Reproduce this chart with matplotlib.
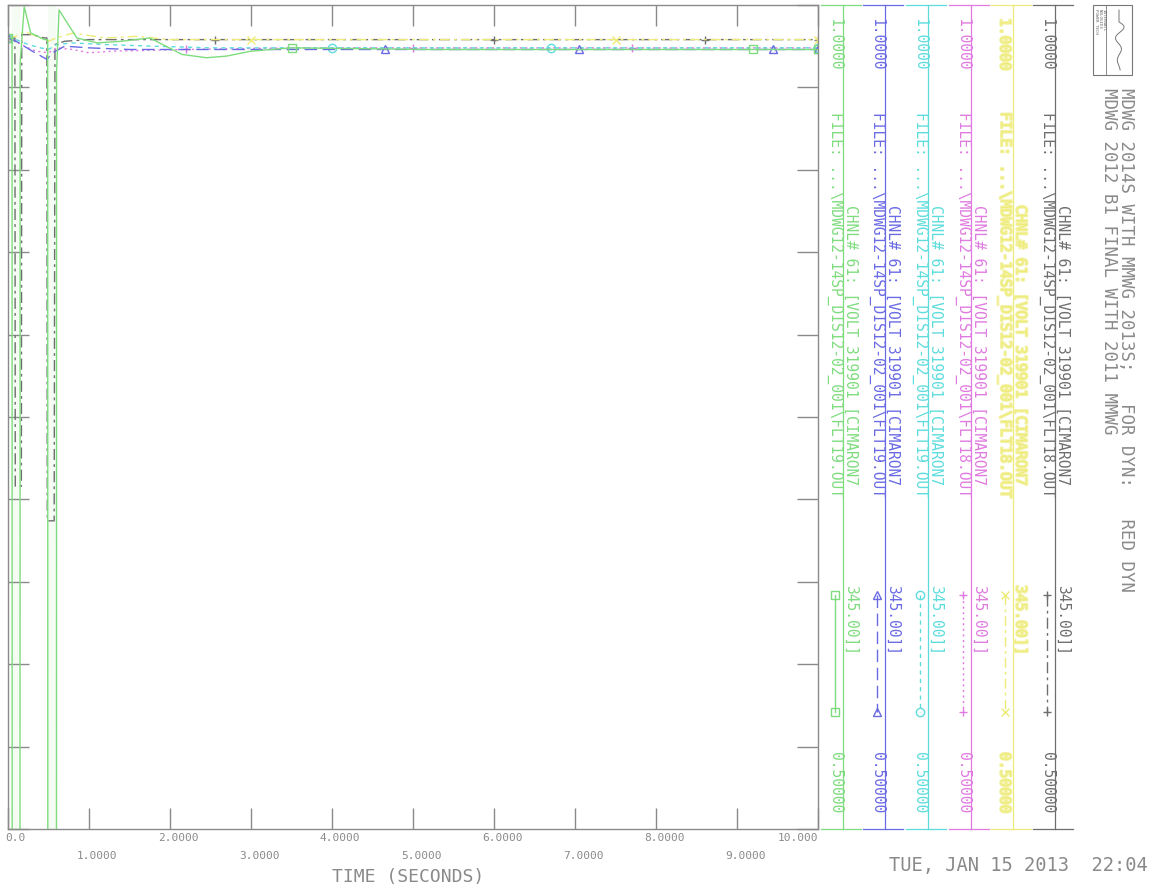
import numpy as np
import matplotlib.pyplot as plt
from matplotlib.lines import Line2D
from matplotlib.patches import Rectangle
import matplotlib.patheffects as pe

plt.rcParams['font.family'] = 'DejaVu Sans Mono'

# ---- CHNL 61 : VOLT 319901 [CIMARON7 345.00], pu vs time (s) ----
t_black = [0.0, 0.085, 0.09, 0.165, 0.17, 0.30, 0.45, 0.48, 0.485, 0.57, 0.58, 0.70, 1.0, 1.5, 2.55, 4.0, 6.0, 8.6, 10.0]
v_black = [0.980, 0.980, 0.708, 0.708, 0.982, 0.982, 0.980, 0.980, 0.687, 0.687, 0.976, 0.978, 0.979, 0.979, 0.979, 0.979, 0.979, 0.979, 0.979]
mk_black = [0.0, 2.55, 6.0, 8.6, 10.0]

t_yellow = [0.0, 0.1, 0.2, 0.35, 0.5, 0.6, 0.8, 1.2, 1.6, 2.0, 3.0, 5.0, 7.5, 10.0]
v_yellow = [0.980, 0.981, 0.984, 0.981, 0.978, 0.980, 0.983, 0.980, 0.981, 0.979, 0.979, 0.979, 0.979, 0.979]
mk_yellow = [0.0, 3.0, 7.5, 10.0]

t_magenta = [0.0, 0.1, 0.2, 0.35, 0.5, 0.6, 0.8, 1.0, 1.3, 2.2, 3.5, 5.0, 7.7, 10.0]
v_magenta = [0.980, 0.978, 0.975, 0.972, 0.971, 0.974, 0.973, 0.971, 0.972, 0.973, 0.974, 0.974, 0.974, 0.974]
mk_magenta = [0.0, 2.2, 5.0, 7.7, 10.0]

t_cyan = [0.0, 0.1, 0.25, 0.4, 0.5, 0.6, 0.8, 1.2, 1.8, 2.5, 4.0, 6.7, 9.0, 10.0]
v_cyan = [0.980, 0.979, 0.976, 0.974, 0.973, 0.976, 0.977, 0.976, 0.975, 0.974, 0.974, 0.974, 0.974, 0.974]
mk_cyan = [0.0, 4.0, 6.7, 10.0]

t_blue = [0.0, 0.1, 0.2, 0.3, 0.48, 0.55, 0.7, 1.0, 1.5, 2.2, 3.0, 4.65, 7.05, 9.45, 10.0]
v_blue = [0.980, 0.978, 0.975, 0.972, 0.967, 0.971, 0.975, 0.974, 0.973, 0.973, 0.973, 0.973, 0.973, 0.973, 0.973]
mk_blue = [0.0, 4.65, 7.05, 9.45, 10.0]

t_green = [0.0, 0.05, 0.052, 0.148, 0.15, 0.2, 0.28, 0.45, 0.49, 0.492, 0.598, 0.6, 0.63, 0.72, 0.85,
           1.1, 1.4, 1.75, 1.95, 2.15, 2.45, 2.7, 3.0, 3.5, 5.2, 7.2, 9.2, 10.0]
v_green = [0.980, 0.980, 0.30, 0.30, 0.965, 0.999, 0.983, 0.979, 0.979, 0.30, 0.30, 0.960, 0.997, 0.990, 0.980,
           0.977, 0.978, 0.980, 0.975, 0.970, 0.968, 0.969, 0.972, 0.974, 0.973, 0.973, 0.973, 0.973]
mk_green = [0.0, 3.5, 9.2, 10.0]

x_ticks = [0, 1, 2, 3, 4, 5, 6, 7, 8, 9, 10]
x_labels = ['0.0', '1.0000', '2.0000', '3.0000', '4.0000', '5.0000',
            '6.0000', '7.0000', '8.0000', '9.0000', '10.000']

chnl_text = 'CHNL# 61: [VOLT 319901 [CIMARON7'
chnl_base = '345.00]]'
file_fmt = 'FILE: ...\\MDWG12-14SP_DIS12-02_001\\{}.OUT'
title1 = 'MDWG 2012 B1 FINAL WITH 2011 MMWG'
title2 = 'MDWG 2014S WITH MMWG 2013S;   FOR DYN:   RED DYN'
stamp = 'TUE, JAN 15 2013  22:04'

YELLOW = '#eeec78'
# channel styles, right-hand legend column order (left to right)
series = [
    dict(t=t_green, v=v_green, mk=mk_green, c='#7edc7e', ls='-', m='s', f='FLT19', x=835),
    dict(t=t_blue, v=v_blue, mk=mk_blue, c='#6a6ae4', ls=(0, (9, 4)), m='^', f='FLT19', x=877),
    dict(t=t_cyan, v=v_cyan, mk=mk_cyan, c='#5edcdc', ls=(0, (3, 3)), m='o', f='FLT19', x=920),
    dict(t=t_magenta, v=v_magenta, mk=mk_magenta, c='#e07ae0', ls=(0, (1.5, 2.5)), m='+', f='FLT18', x=963),
    dict(t=t_yellow, v=v_yellow, mk=mk_yellow, c=YELLOW, ls=(0, (7, 3, 2, 3)), m='x', f='FLT18', x=1005),
    dict(t=t_black, v=v_black, mk=mk_black, c='#6e6e6e', ls=(0, (8, 3, 2, 3)), m='+', f='FLT18', x=1047),
]

W, H = 1168, 891
GRAY = '#8a8a8a'
fig = plt.figure(figsize=(W / 100, H / 100), dpi=100)


def fx(x):
    return x / W


def fy(y):
    return 1 - y / H


# plot frame, pixel edges
L, R, T, B = 8, 818, 5, 829
ax = fig.add_axes([fx(L), fy(B), (R - L) / W, (B - T) / H])
ax.set_xlim(0, 10)
ax.set_ylim(0.5, 1.0)
for s in ax.spines.values():
    s.set_color(GRAY)
    s.set_linewidth(1.0)
ax.set_xticks(x_ticks)
ax.set_yticks(np.arange(0.5, 1.0001, 0.05))
ax.tick_params(direction='in', length=15, width=1, colors=GRAY, top=True, right=True,
               labelbottom=False, labelleft=False)

# green run goes off scale during the faults: faint band where it is below the axis
tg = np.array(t_green)
vg = np.array(v_green)
ax.fill_between(tg, 0.5, 1.0, where=vg < 0.5, color='#d6f4d6', alpha=0.25, lw=0)

for s in reversed(series):
    idx = [s['t'].index(m) for m in s['mk']]
    ax.plot(s['t'], s['v'], color=s['c'], ls=s['ls'], lw=1.0, marker=s['m'], ms=6,
            mfc='none', mec=s['c'], mew=1.0, markevery=idx, clip_on=True)

# x tick labels in two staggered rows
for i, (t, lab) in enumerate(zip(x_ticks, x_labels)):
    dy = -9 if i % 2 == 0 else -27
    ha, dx = 'center', 8
    if i == 0:
        ha, dx = 'left', -3
    elif i == len(x_ticks) - 1:
        ha, dx = 'right', 0
    ax.annotate(lab, xy=(t, 0), xycoords=('data', 'axes fraction'),
                xytext=(dx * 0.72, dy * 0.72), textcoords='offset points',
                ha=ha, va='center', fontsize=8, color=GRAY)

fig.text(fx(408), fy(877), 'TIME (SECONDS)', ha='center', va='center', fontsize=13, color=GRAY)
fig.text(fx(1018), fy(865), stamp, ha='center', va='center', fontsize=13.5, color=GRAY)

# legend columns
for s in series:
    xc, col = s['x'], s['c']
    fx_c = fx(xc)
    effects = [pe.withStroke(linewidth=1.6, foreground='#f4f2a8')] if col == YELLOW else None
    kw = dict(rotation=-90, ha='center', va='top', fontsize=10.5, color=col, path_effects=effects)
    fig.add_artist(Line2D([fx(xc + 8), fx(xc + 8)], [fy(T), fy(B)], color=col, lw=0.9))
    for yy in (T, B):
        fig.add_artist(Line2D([fx(xc - 14), fx(xc + 26)], [fy(yy), fy(yy)], color=col, lw=0.9))
    fig.text(fx_c, fy(18), '1.0000', **kw)
    fig.text(fx_c, fy(112), file_fmt.format(s['f']), **kw)
    fig.text(fx(xc + 16), fy(205), chnl_text, **kw)
    fig.text(fx(xc + 16), fy(585), chnl_base, **kw)
    fig.text(fx_c, fy(752), '0.50000', **kw)
    fig.add_artist(Line2D([fx_c, fx_c], [fy(595), fy(712)], color=col, ls=s['ls'], lw=1.0,
                          marker=s['m'], ms=6, mfc='none', mec=col, mew=1.0))

# case titles, rotated
fig.text(fx(1109), fy(88), title1, rotation=-90, ha='center', va='top', fontsize=12.5, color=GRAY)
fig.text(fx(1126), fy(88), title2, rotation=-90, ha='center', va='top', fontsize=12.5, color=GRAY)

# small logo box
LX0, LX1 = 1093, 1132
fig.add_artist(Rectangle((fx(LX0), fy(75)), (LX1 - LX0) / W, 70 / H, transform=fig.transFigure,
                         fill=False, ec='#777777', lw=0.8))
fig.add_artist(Line2D([fx(LX0 + 13), fx(LX0 + 13)], [fy(5), fy(75)], color='#777777', lw=0.6))
for k, word in enumerate(['POWER TECH', 'NOLOGIES', 'INTERNATL']):
    fig.text(fx(LX0 + 3 + k * 4), fy(9), word, rotation=-90, ha='center', va='top',
             fontsize=3, color='#666666')
yy = np.linspace(10, 70, 120)
amp = np.where(yy < 22, 0, 6 * np.exp(-(yy - 22) / 30))
xx = LX0 + 26 + amp * np.sin((yy - 22) / 3.5)
fig.add_artist(Line2D(fx(xx), fy(yy), color='#777777', lw=0.7))

fig.savefig('out.png', dpi=100, facecolor='white')
